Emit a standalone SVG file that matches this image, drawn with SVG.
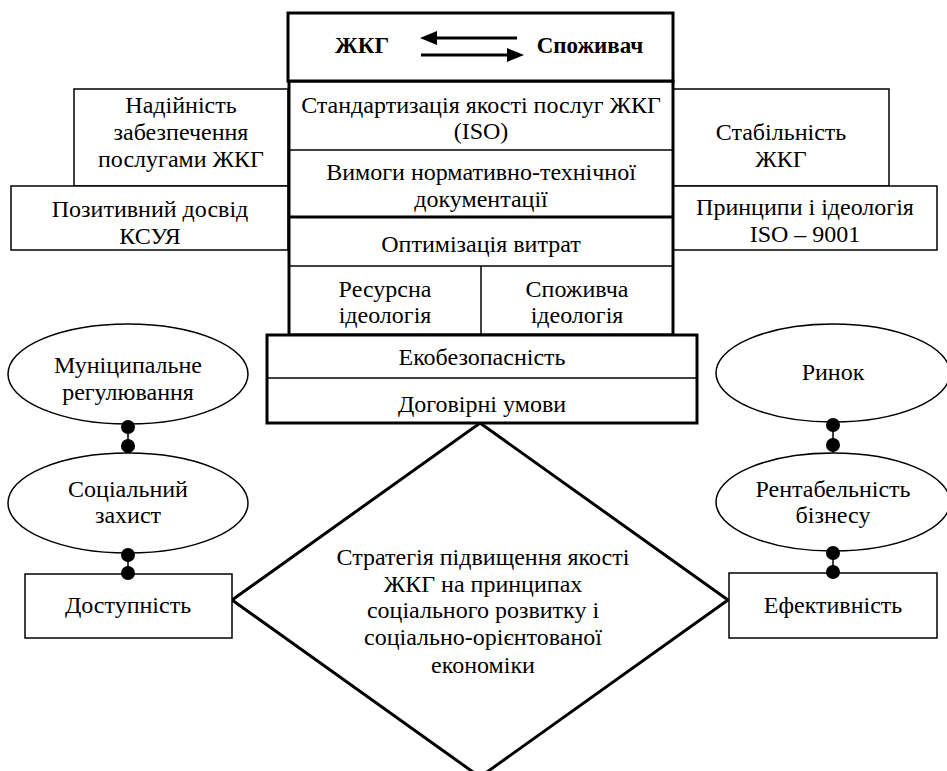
<svg xmlns="http://www.w3.org/2000/svg" width="947" height="771" viewBox="0 0 947 771">
<defs>
<style>
text{font-family:"Liberation Serif","Times New Roman",serif;font-size:24px;fill:#000;text-anchor:middle}
.b{font-weight:bold;font-size:23px}
.thin{fill:#fff;stroke:#000;stroke-width:1.5}
.thick{fill:#fff;stroke:#000;stroke-width:3}
.ln{stroke:#000;stroke-width:1.5;fill:none}
.dot{fill:#000}
</style>
</defs>
<rect width="947" height="771" fill="#fff"/>

<g id="diamond">
<polygon points="480,423 728,600 480,777 232,600" fill="#fff" stroke="#000" stroke-width="3"/>
<text x="483" y="565">Стратегія підвищення якості</text>
<text x="483" y="592">ЖКГ на принципах</text>
<text x="483" y="618">соціального розвитку і</text>
<text x="483" y="645">соціально-орієнтованої</text>
<text x="483" y="673">економіки</text>
</g>

<g id="nadiinist">
<rect class="thin" x="74" y="89" width="214" height="97"/>
<text x="181" y="113">Надійність</text>
<text x="181" y="140">забезпечення</text>
<text x="181" y="167">послугами ЖКГ</text>
</g>
<g id="pozytyvnyi">
<rect class="thin" x="11" y="186" width="277" height="64"/>
<text x="150" y="217">Позитивний досвід</text>
<text x="150" y="244">КСУЯ</text>
</g>
<g id="stabilnist">
<rect class="thin" x="673" y="89" width="216" height="97"/>
<text x="781" y="140">Стабільність</text>
<text x="781" y="167">ЖКГ</text>
</g>
<g id="pryntsypy">
<rect class="thin" x="673" y="186" width="264" height="64"/>
<text x="805" y="215">Принципи і ідеологія</text>
<text x="805" y="242">ISO – 9001</text>
</g>

<g id="column">
<rect class="thick" x="289" y="81" width="384" height="254"/>
<line class="ln" x1="289" y1="150" x2="673" y2="150"/>
<line x1="289" y1="217" x2="673" y2="217" stroke="#000" stroke-width="3"/>
<line class="ln" x1="289" y1="266" x2="673" y2="266"/>
<line class="ln" x1="481" y1="266" x2="481" y2="335"/>
</g>
<g id="standart">
<text x="481" y="113">Стандартизація якості послуг ЖКГ</text>
<text x="481" y="139">(ISO)</text>
</g>
<g id="vymohy">
<text x="481" y="180">Вимоги нормативно-технічної</text>
<text x="481" y="207">документації</text>
</g>
<g id="optymizatsiia">
<text x="481" y="252">Оптимізація витрат</text>
</g>
<g id="resursna">
<text x="385" y="297">Ресурсна</text>
<text x="385" y="323">ідеологія</text>
</g>
<g id="spozhyvcha">
<text x="577" y="297">Споживча</text>
<text x="577" y="323">ідеологія</text>
</g>

<g id="topbox">
<rect class="thick" x="288" y="13" width="385" height="68"/>
<text class="b" x="362" y="53">ЖКГ</text>
<text class="b" x="590" y="53">Споживач</text>
</g>

<g id="bottombox">
<rect class="thick" x="267" y="335" width="430" height="88"/>
<line class="ln" x1="267" y1="378" x2="697" y2="378"/>
<text x="482" y="365">Екобезопасність</text>
<text x="482" y="412">Договірні умови</text>
</g>

<g id="munitsypalne">
<ellipse class="thin" cx="128" cy="374" rx="120" ry="50"/>
<text x="128" y="373">Муніципальне</text>
<text x="128" y="400">регулювання</text>
</g>
<g id="sotsialnyi">
<ellipse class="thin" cx="128" cy="503" rx="120" ry="50"/>
<text x="128" y="497">Соціальний</text>
<text x="128" y="523">захист</text>
</g>
<g id="dostupnist">
<rect class="thin" x="25" y="574" width="207" height="64"/>
<text x="128" y="613">Доступність</text>
</g>
<g id="rynok">
<ellipse class="thin" cx="833" cy="373" rx="117" ry="49"/>
<text x="833" y="380">Ринок</text>
</g>
<g id="rentabelnist">
<ellipse class="thin" cx="833" cy="502" rx="117" ry="49"/>
<text x="833" y="497">Рентабельність</text>
<text x="833" y="523">бізнесу</text>
</g>
<g id="efektyvnist">
<rect class="thin" x="729" y="573" width="208" height="65"/>
<text x="833" y="613">Ефективність</text>
</g>

<g id="connectors">
<line x1="517" y1="38" x2="434" y2="38" stroke="#000" stroke-width="3"/>
<polygon points="420,38 437,31 437,45" fill="#000"/>
<line x1="421" y1="55" x2="510" y2="55" stroke="#000" stroke-width="3"/>
<polygon points="524,55 507,48 507,62" fill="#000"/>
<line class="ln" x1="128" y1="424" x2="128" y2="453"/>
<circle class="dot" cx="128" cy="427" r="7"/>
<circle class="dot" cx="128" cy="446" r="7"/>
<line class="ln" x1="128" y1="553" x2="128" y2="574"/>
<circle class="dot" cx="128" cy="555" r="7"/>
<circle class="dot" cx="128" cy="573" r="7"/>
<line class="ln" x1="833" y1="422" x2="833" y2="453"/>
<circle class="dot" cx="833" cy="425" r="7"/>
<circle class="dot" cx="833" cy="445" r="7"/>
<line class="ln" x1="833" y1="551" x2="833" y2="573"/>
<circle class="dot" cx="833" cy="553" r="7"/>
<circle class="dot" cx="833" cy="572" r="7"/>
</g>
</svg>
